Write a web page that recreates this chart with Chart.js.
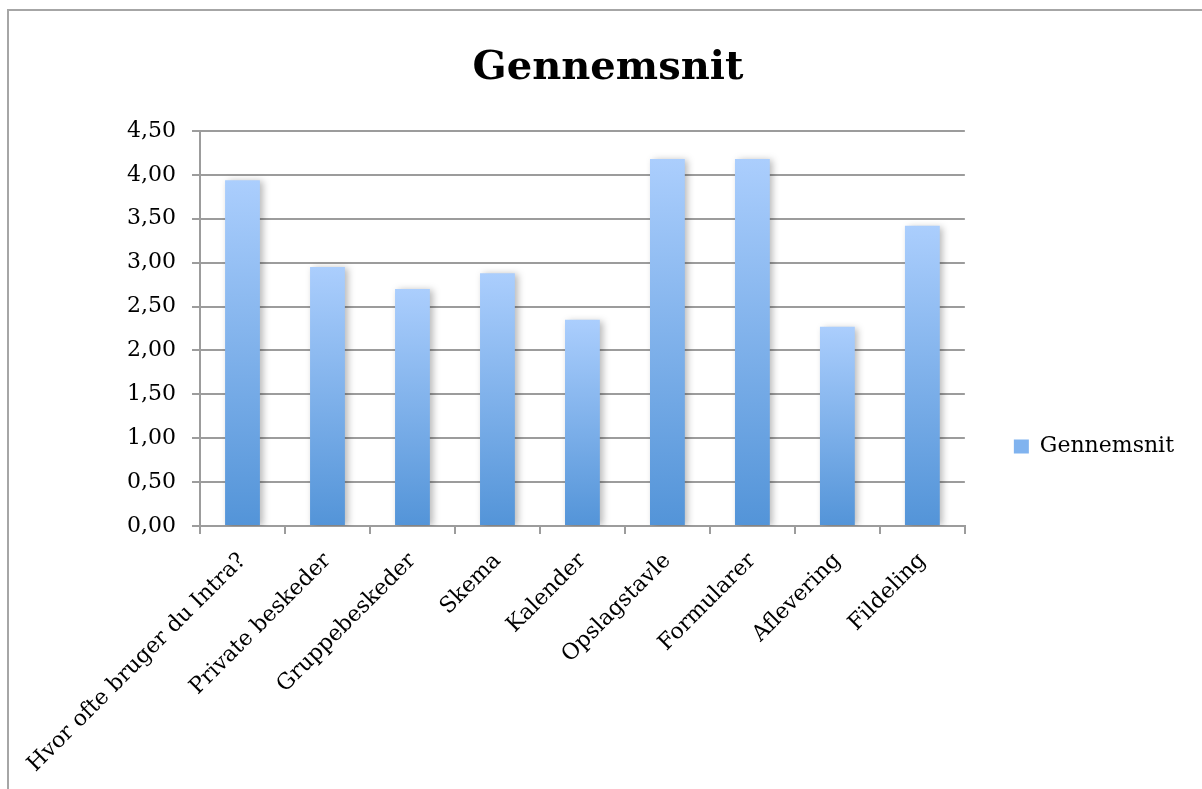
<!DOCTYPE html>
<html>
<head>
<meta charset="utf-8">
<script src="https://cdn.jsdelivr.net/npm/chart.js@4/dist/chart.umd.min.js"></script>
<style>
  html, body { margin: 0; padding: 0; background: #ffffff; overflow: hidden; }
  #wrap { position: relative; width: 1202px; height: 789px; }
  #frame { position: absolute; left: 7px; top: 9px; width: 1300px; height: 900px; border: 2px solid #a6a6a6; box-sizing: border-box; }
  canvas { position: absolute; left: 0; top: 0; }
</style>
</head>
<body>
<div id="wrap">
  <div id="frame"></div>
  <canvas id="c" width="1202" height="789"></canvas>
</div>
<script>
const categories = [
  "Hvor ofte bruger du Intra?",
  "Private beskeder",
  "Gruppebeskeder",
  "Skema",
  "Kalender",
  "Opslagstavle",
  "Formularer",
  "Aflevering",
  "Fildeling"
];
const seriesName = "Gennemsnit";
const values = [3.94, 2.95, 2.70, 2.88, 2.35, 4.18, 4.18, 2.27, 3.42];
const yTicks = [0, 0.5, 1, 1.5, 2, 2.5, 3, 3.5, 4, 4.5];

const FONT = "'DejaVu Serif', 'Liberation Serif', serif";

const barGradient = (context) => {
  const chart = context.chart;
  const area = chart.chartArea;
  if (!area || context.type !== 'data') return '#7fb2ee';
  const y = chart.scales.y;
  const top = y.getPixelForValue(context.raw);
  const bottom = y.getPixelForValue(0);
  const g = chart.ctx.createLinearGradient(0, top, 0, bottom);
  g.addColorStop(0, '#abcefd');
  g.addColorStop(1, '#5394d8');
  return g;
};

const shadowPlugin = {
  id: 'barShadow',
  beforeDatasetsDraw(chart) {
    const c = chart.ctx;
    c.save();
    c.shadowColor = 'rgba(0,0,0,0.28)';
    c.shadowBlur = 7;
    c.shadowOffsetX = 3;
    c.shadowOffsetY = 1;
  },
  afterDatasetsDraw(chart) {
    chart.ctx.restore();
  }
};

const legendShift = {
  id: 'legendShift',
  afterLayout(chart) {
    const lg = chart.legend;
    if (lg) { lg.top += 52; lg.bottom += 52; }
  }
};

new Chart(document.getElementById('c'), {
  type: 'bar',
  data: {
    labels: categories,
    datasets: [{
      label: seriesName,
      data: values,
      backgroundColor: barGradient,
      borderWidth: 0,
      categoryPercentage: 1.0,
      barPercentage: 0.41
    }]
  },
  options: {
    responsive: false,
    animation: false,
    devicePixelRatio: 1,
    layout: { padding: { left: 32, right: 18, top: 0, bottom: 0 } },
    plugins: {
      title: {
        display: true,
        text: seriesName,
        color: '#000000',
        font: { family: FONT, size: 40, weight: 'bold' },
        padding: { top: 45, bottom: 38 }
      },
      legend: {
        display: true,
        position: 'right',
        labels: {
          color: '#000000',
          font: { family: FONT, size: 22 },
          boxWidth: 15,
          boxHeight: 14,
          padding: 49,
          generateLabels: (chart) => [{
            text: seriesName,
            fillStyle: '#80b3ef',
            strokeStyle: '#80b3ef',
            lineWidth: 0,
            hidden: false,
            datasetIndex: 0
          }]
        }
      },
      tooltip: { enabled: false }
    },
    scales: {
      x: {
        afterFit: (s) => { s.height = 263; },
        grid: {
          offset: true,
          drawOnChartArea: false,
          drawTicks: true,
          tickLength: 8,
          color: '#9c9c9c',
          lineWidth: 2
        },
        border: { display: true, color: '#9c9c9c', width: 2 },
        ticks: {
          color: '#000000',
          font: { family: FONT, size: 22 },
          minRotation: 45,
          maxRotation: 45,
          padding: 14,
          autoSkip: false
        }
      },
      y: {
        min: 0,
        max: 4.5,
        afterFit: (s) => { s.width = 168; },
        afterBuildTicks: (s) => { s.ticks = yTicks.map(v => ({ value: v })); },
        grid: {
          color: '#9c9c9c',
          lineWidth: 2,
          drawTicks: true,
          tickLength: 8
        },
        border: { display: true, color: '#9c9c9c', width: 2 },
        ticks: {
          color: '#000000',
          font: { family: FONT, size: 22 },
          padding: 16,
          callback: (v) => Number(v).toFixed(2).replace('.', ',')
        }
      }
    }
  },
  plugins: [shadowPlugin, legendShift]
});
</script>
</body>
</html>
